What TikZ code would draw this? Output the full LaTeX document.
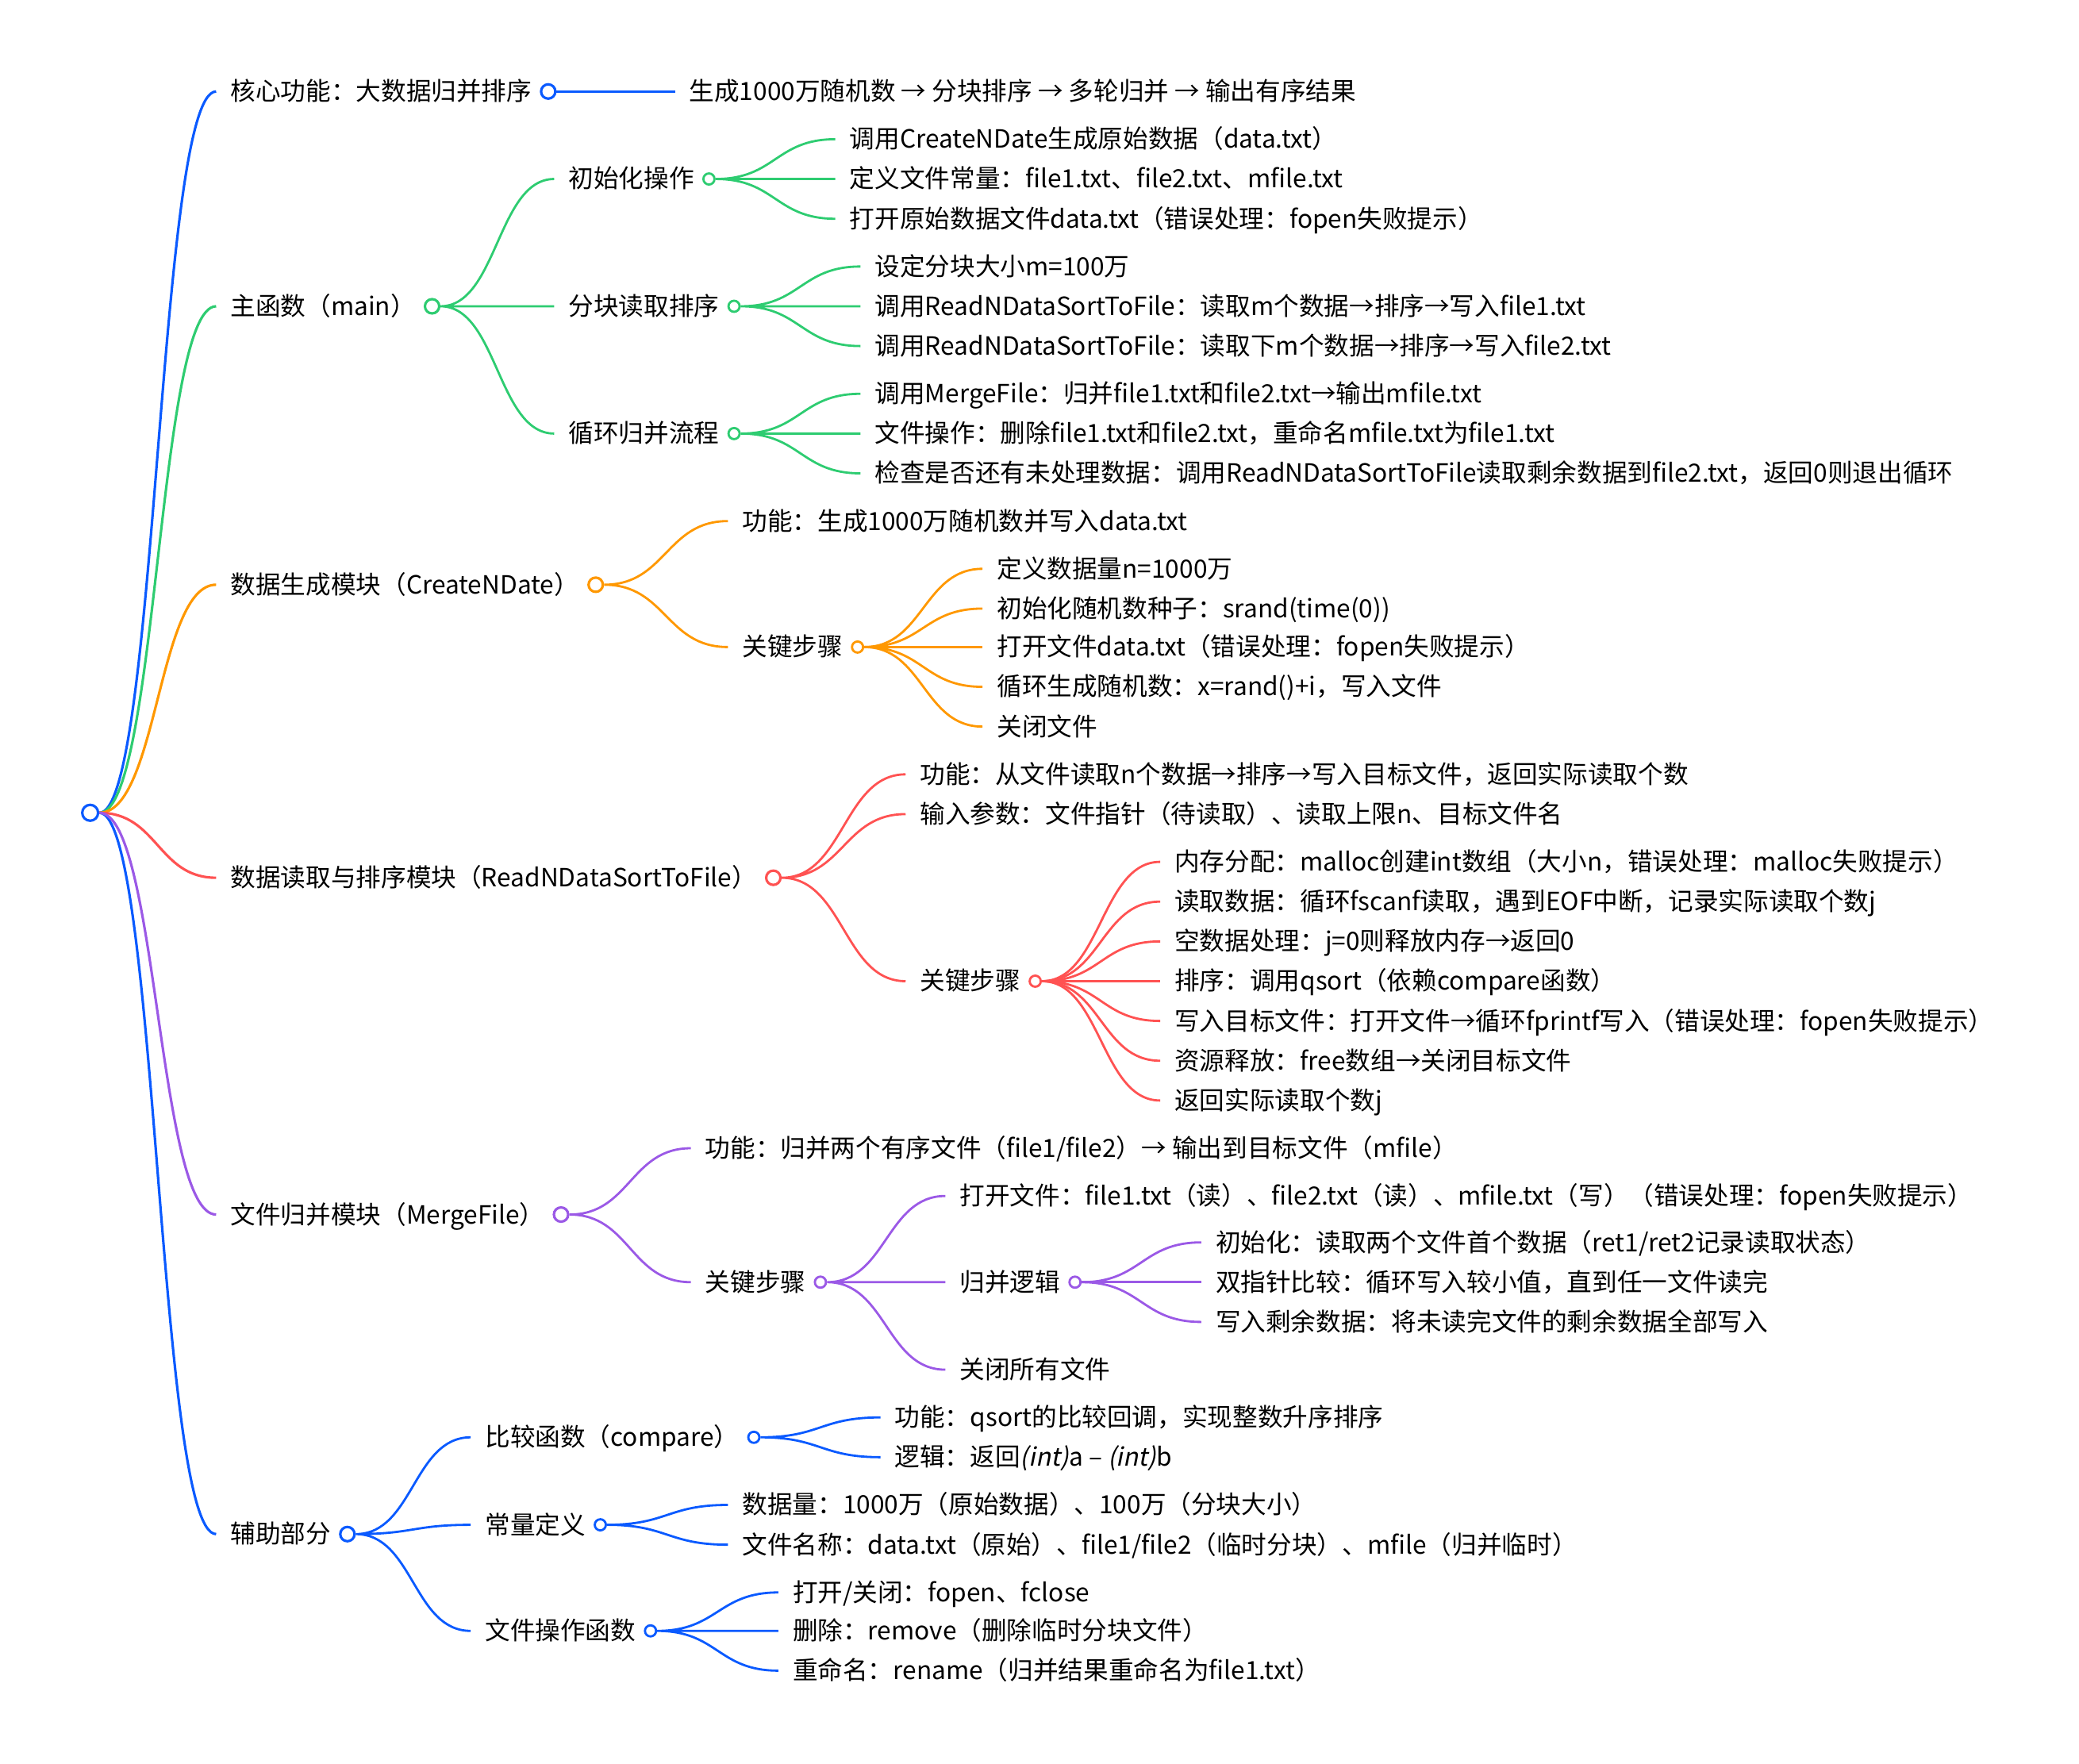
\documentclass[tikz,border=0pt]{standalone}
\usepackage{fontspec}
\setmainfont{Noto Sans CJK SC}
\newfontfamily\slantcjk{Noto Sans CJK SC}[FakeSlant=0.2]
\usepackage{tikz}
\usepackage{xcolor}
\usetikzlibrary{positioning, calc}
\definecolor{mmblue}{RGB}{10,90,255}
\definecolor{mmgreen}{RGB}{46,204,113}
\definecolor{mmorange}{RGB}{255,152,0}
\definecolor{mmred}{RGB}{255,82,82}
\definecolor{mmpurple}{RGB}{155,89,230}

\begin{document}
\begin{tikzpicture}[x=0.01671cm, y=-0.01671cm,
  topic/.style={anchor=west, inner xsep=0.175cm, inner ysep=0pt, text height=7.6pt, text depth=1.1pt, font=\fontsize{9pt}{11pt}\selectfont},
  knob/.style={circle, draw, fill=white, inner sep=0pt, minimum size=0.14cm, line width=0.8pt},
  bigknob/.style={knob, minimum size=0.18cm, line width=0.9pt},
  branch/.style={line width=0.8pt, to path={let \p1=(\tikztostart), \p2=(\tikztotarget), \p3=($(\p1)!0.5!(\p2)$) in .. controls (\x3,\y1) and (\x3,\y2) .. (\tikztotarget) \tikztonodes}}]
  \useasboundingbox (0,0) rectangle (1568,1330);

  \node[knob, draw=mmblue, minimum size=0.2cm, line width=0.9pt] (root) at (68,613) {};

  \node[topic] (core) at (163,69) {核心功能：大数据归并排序};
  \node[bigknob, draw=mmblue, right=-0.081cm of core] (core-o) {};
  \node[topic] (coreflow) at (509,69) {生成1000万随机数 → 分块排序 → 多轮归并 → 输出有序结果};

  \node[topic] (main) at (163,231) {主函数（main）};
  \node[bigknob, draw=mmgreen, right=-0.081cm of main] (main-o) {};
  \node[topic] (init) at (418,135) {初始化操作};
  \node[knob, draw=mmgreen, right=-0.08cm of init] (init-o) {};
  \node[topic] (init1) at (630,105) {调用CreateNDate生成原始数据（data.txt）};
  \node[topic] (init2) at (630,135) {定义文件常量：file1.txt、file2.txt、mfile.txt};
  \node[topic] (init3) at (630,165) {打开原始数据文件data.txt（错误处理：fopen失败提示）};
  \node[topic] (chunk) at (418,231) {分块读取排序};
  \node[knob, draw=mmgreen, right=-0.08cm of chunk] (chunk-o) {};
  \node[topic] (chunk1) at (649,201) {设定分块大小m=100万};
  \node[topic] (chunk2) at (649,231) {调用ReadNDataSortToFile：读取m个数据→排序→写入file1.txt};
  \node[topic] (chunk3) at (649,261) {调用ReadNDataSortToFile：读取下m个数据→排序→写入file2.txt};
  \node[topic] (loop) at (418,327) {循环归并流程};
  \node[knob, draw=mmgreen, right=-0.08cm of loop] (loop-o) {};
  \node[topic] (loop1) at (649,297) {调用MergeFile：归并file1.txt和file2.txt→输出mfile.txt};
  \node[topic] (loop2) at (649,327) {文件操作：删除file1.txt和file2.txt，重命名mfile.txt为file1.txt};
  \node[topic] (loop3) at (649,357) {检查是否还有未处理数据：调用ReadNDataSortToFile读取剩余数据到file2.txt，返回0则退出循环};

  \node[topic] (gen) at (163,441) {数据生成模块（CreateNDate）};
  \node[bigknob, draw=mmorange, right=-0.081cm of gen] (gen-o) {};
  \node[topic] (genfn) at (549,393) {功能：生成1000万随机数并写入data.txt};
  \node[topic] (gensteps) at (549,488) {关键步骤};
  \node[knob, draw=mmorange, right=-0.08cm of gensteps] (gensteps-o) {};
  \node[topic] (gens1) at (741,429) {定义数据量n=1000万};
  \node[topic] (gens2) at (741,459) {初始化随机数种子：srand(time(0))};
  \node[topic] (gens3) at (741,488) {打开文件data.txt（错误处理：fopen失败提示）};
  \node[topic] (gens4) at (741,518) {循环生成随机数：x=rand()+i，写入文件};
  \node[topic] (gens5) at (741,548) {关闭文件};

  \node[topic] (rd) at (163,662) {数据读取与排序模块（ReadNDataSortToFile）};
  \node[bigknob, draw=mmred, right=-0.081cm of rd] (rd-o) {};
  \node[topic] (rdfn) at (683,584) {功能：从文件读取n个数据→排序→写入目标文件，返回实际读取个数};
  \node[topic] (rdin) at (683,614) {输入参数：文件指针（待读取）、读取上限n、目标文件名};
  \node[topic] (rdsteps) at (683,740) {关键步骤};
  \node[knob, draw=mmred, right=-0.08cm of rdsteps] (rdsteps-o) {};
  \node[topic] (rds1) at (875,650) {内存分配：malloc创建int数组（大小n，错误处理：malloc失败提示）};
  \node[topic] (rds2) at (875,680) {读取数据：循环fscanf读取，遇到EOF中断，记录实际读取个数j};
  \node[topic] (rds3) at (875,710) {空数据处理：j=0则释放内存→返回0};
  \node[topic] (rds4) at (875,740) {排序：调用qsort（依赖compare函数）};
  \node[topic] (rds5) at (875,770) {写入目标文件：打开文件→循环fprintf写入（错误处理：fopen失败提示）};
  \node[topic] (rds6) at (875,800) {资源释放：free数组→关闭目标文件};
  \node[topic] (rds7) at (875,830) {返回实际读取个数j};

  \node[topic] (mg) at (163,916) {文件归并模块（MergeFile）};
  \node[bigknob, draw=mmpurple, right=-0.081cm of mg] (mg-o) {};
  \node[topic] (mgfn) at (521,866) {功能：归并两个有序文件（file1/file2）→ 输出到目标文件（mfile）};
  \node[topic] (mgsteps) at (521,967) {关键步骤};
  \node[knob, draw=mmpurple, right=-0.08cm of mgsteps] (mgsteps-o) {};
  \node[topic] (mgopen) at (713,902) {打开文件：file1.txt（读）、file2.txt（读）、mfile.txt（写）（错误处理：fopen失败提示）};
  \node[topic] (mglogic) at (713,967) {归并逻辑};
  \node[knob, draw=mmpurple, right=-0.08cm of mglogic] (mglogic-o) {};
  \node[topic] (mgl1) at (906,937) {初始化：读取两个文件首个数据（ret1/ret2记录读取状态）};
  \node[topic] (mgl2) at (906,967) {双指针比较：循环写入较小值，直到任一文件读完};
  \node[topic] (mgl3) at (906,997) {写入剩余数据：将未读完文件的剩余数据全部写入};
  \node[topic] (mgclose) at (713,1033) {关闭所有文件};

  \node[topic] (aux) at (163,1157) {辅助部分};
  \node[bigknob, draw=mmblue, right=-0.081cm of aux] (aux-o) {};
  \node[topic] (cmp) at (355,1084) {比较函数（compare）};
  \node[knob, draw=mmblue, right=-0.08cm of cmp] (cmp-o) {};
  \node[topic] (cmp1) at (664,1069) {功能：qsort的比较回调，实现整数升序排序};
  \node[topic] (cmp2) at (664,1099) {逻辑：返回{\slantcjk (int)}a – {\slantcjk (int)}b};
  \node[topic] (const) at (355,1150) {常量定义};
  \node[knob, draw=mmblue, right=-0.08cm of const] (const-o) {};
  \node[topic] (const1) at (549,1135) {数据量：1000万（原始数据）、100万（分块大小）};
  \node[topic] (const2) at (549,1165) {文件名称：data.txt（原始）、file1/file2（临时分块）、mfile（归并临时）};
  \node[topic] (fops) at (355,1230) {文件操作函数};
  \node[knob, draw=mmblue, right=-0.08cm of fops] (fops-o) {};
  \node[topic] (fops1) at (587,1201) {打开/关闭：fopen、fclose};
  \node[topic] (fops2) at (587,1230) {删除：remove（删除临时分块文件）};
  \node[topic] (fops3) at (587,1260) {重命名：rename（归并结果重命名为file1.txt）};

  \draw[branch, mmblue, line width=0.9pt] (root.east) to (core.west) (root.east) to (aux.west);
  \draw[branch, mmgreen, line width=0.9pt] (root.east) to (main.west);
  \draw[branch, mmorange, line width=0.9pt] (root.east) to (gen.west);
  \draw[branch, mmred, line width=0.9pt] (root.east) to (rd.west);
  \draw[branch, mmpurple, line width=0.9pt] (root.east) to (mg.west);

  \draw[branch, mmblue] (core-o.east) to (coreflow.west);

  \draw[branch, mmgreen] (main-o.east) to (init.west) (main-o.east) to (chunk.west) (main-o.east) to (loop.west);
  \draw[branch, mmgreen] (init-o.east) to (init1.west) (init-o.east) to (init2.west) (init-o.east) to (init3.west);
  \draw[branch, mmgreen] (chunk-o.east) to (chunk1.west) (chunk-o.east) to (chunk2.west) (chunk-o.east) to (chunk3.west);
  \draw[branch, mmgreen] (loop-o.east) to (loop1.west) (loop-o.east) to (loop2.west) (loop-o.east) to (loop3.west);

  \draw[branch, mmorange] (gen-o.east) to (genfn.west) (gen-o.east) to (gensteps.west);
  \foreach \k in {1,...,5}
    \draw[branch, mmorange] (gensteps-o.east) to (gens\k.west);

  \draw[branch, mmred] (rd-o.east) to (rdfn.west) (rd-o.east) to (rdin.west) (rd-o.east) to (rdsteps.west);
  \foreach \k in {1,...,7}
    \draw[branch, mmred] (rdsteps-o.east) to (rds\k.west);

  \draw[branch, mmpurple] (mg-o.east) to (mgfn.west) (mg-o.east) to (mgsteps.west);
  \draw[branch, mmpurple] (mgsteps-o.east) to (mgopen.west) (mgsteps-o.east) to (mglogic.west) (mgsteps-o.east) to (mgclose.west);
  \foreach \k in {1,2,3}
    \draw[branch, mmpurple] (mglogic-o.east) to (mgl\k.west);

  \draw[branch, mmblue] (aux-o.east) to (cmp.west) (aux-o.east) to (const.west) (aux-o.east) to (fops.west);
  \draw[branch, mmblue] (cmp-o.east) to (cmp1.west) (cmp-o.east) to (cmp2.west);
  \draw[branch, mmblue] (const-o.east) to (const1.west) (const-o.east) to (const2.west);
  \draw[branch, mmblue] (fops-o.east) to (fops1.west) (fops-o.east) to (fops2.west) (fops-o.east) to (fops3.west);
\end{tikzpicture}
\end{document}
